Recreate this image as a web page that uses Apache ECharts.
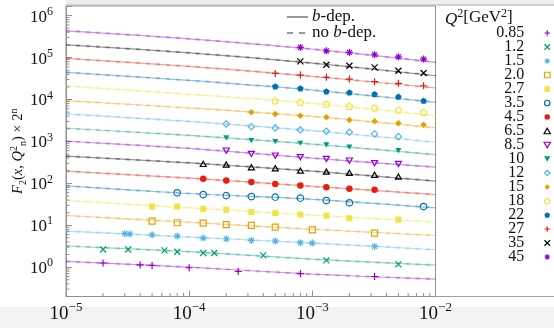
<!DOCTYPE html>
<html><head><meta charset="utf-8">
<script src="https://cdn.jsdelivr.net/npm/echarts@6/dist/echarts.min.js"></script>
<style>html,body{margin:0;padding:0;background:#fff}#c{width:554px;height:328px}</style>
</head><body><div id="c"></div>
<script>
// ---------- data ----------
const q2Labels = ['0.85','1.2','1.5','2.0','2.7','3.5','4.5','6.5','8.5','10','12','15','18','22','27','35','45'];
const xTickLabels = ['10^-5','10^-4','10^-3','10^-2'];
const yTickLabels = ['10^0','10^1','10^2','10^3','10^4','10^5','10^6'];

// x positions where the model curves were read
const lineX = [1e-5, 1e-4, 1e-3, 1e-2];
// b-dep. curves (F2 x 2^n) read at lineX; the no-b-dep. curves overlap them at this resolution
const line085 = [1.374, 1.0, 0.681, 0.518];
const line12  = [3.20, 2.34, 1.55, 1.12];
const line15  = [7.28, 5.24, 3.77, 2.61];
const line20  = [17.1, 11.8, 8.03, 5.71];
const line27  = [38.9, 26.1, 17.5, 11.9];
const line35  = [87.2, 57.2, 41.6, 26.1];
const line45  = [195, 133, 84.9, 54.1];
const line65  = [444, 308, 196, 113];
const line85  = [1011, 681, 398, 243];
const line10  = [2061, 1390, 863, 485];
const line12b = [4520, 2993, 1807, 957];
const line15b = [9360, 6280, 3940, 2095];
const line18  = [20960, 13300, 8120, 4110];
const line22  = [44400, 28500, 16800, 8570];
const line27b = [95700, 61400, 35700, 18800];
const line35b = [201800, 130000, 74000, 36900];
const line45b = [434500, 280500, 159200, 76900];

// measured points [x, F2 x 2^n]
const pts085 = [[2e-5,1.26],[4e-5,1.13],[5e-5,1.10],[1e-4,0.97],[2.5e-4,0.79],[8e-4,0.70],[3.2e-3,0.60]];
const pts12  = [[2e-5,2.65],[3.2e-5,2.65],[6.3e-5,2.51],[8e-5,2.34],[1.3e-4,2.18],[1.6e-4,2.18],[4e-4,1.91],[1.3e-3,1.45],[5e-3,1.17]];
const pts15  = [[3.0e-5,6.3],[3.3e-5,6.2],[5e-5,5.94],[8e-5,5.53],[1.3e-4,4.96],[2e-4,4.77],[3.2e-4,4.35],[5e-4,4.2],[8e-4,3.83],[1e-3,3.77],[3.2e-3,3.13]];
const pts20  = [[5e-5,12.6],[8e-5,11.5],[1.3e-4,11.3],[2e-4,10.4],[3.2e-4,9.9],[5e-4,9.06],[1e-3,7.8],[3.2e-3,6.5]];
const pts27  = [[5e-5,28],[8e-5,28],[1.3e-4,24.7],[2e-4,23.4],[3.2e-4,20.6],[5e-4,19.5],[8e-4,18.1],[1.3e-3,17.1],[2e-3,14.8],[5e-3,13.7]];
const pts35  = [[8e-5,59.4],[1.3e-4,54],[2e-4,51],[3.2e-4,48.5],[5e-4,46.9],[8e-4,44.4],[1.3e-3,38.9],[2e-3,34.4],[8e-3,28]];
const pts45  = [[1.3e-4,128],[2e-4,117],[3.2e-4,107],[5e-4,97],[8e-4,88.7],[1.3e-3,81],[2e-3,74],[3.2e-3,70]];
const pts65  = [[1.3e-4,291],[2e-4,281],[3.2e-4,243],[5e-4,230],[8e-4,202],[1.3e-3,191],[2e-3,178],[3.2e-3,159],[5e-3,145]];
const pts85  = [[2e-4,604],[3.2e-4,504],[5e-4,459],[8e-4,421],[1.3e-3,383],[2e-3,349],[3.2e-3,303],[5e-3,291]];
const pts10  = [[2e-4,1211],[3.2e-4,1045],[5e-4,989],[8e-4,905],[1.3e-3,826],[2e-3,728],[5e-3,604]];
const pts12b = [[2e-4,2612],[3.2e-4,2250],[5e-4,2094],[8e-4,1878],[1.3e-3,1749],[2e-3,1656],[3.2e-3,1510],[5e-3,1301]];
const pts15b = [[3.2e-4,4955],[5e-4,4520],[8e-4,4115],[1.3e-3,3766],[2e-3,3250],[3.2e-3,3027],[5e-3,2712],[8e-3,2512]];
const pts18  = [[5e-4,9355],[8e-4,8570],[1.3e-3,7820],[2e-3,6890],[3.2e-3,6280],[5e-3,5620],[8e-3,4955]];
const pts22  = [[5e-4,20600],[8e-4,18500],[1.3e-3,15700],[2e-3,14800],[3.2e-3,13500],[5e-3,11700],[8e-3,9360]];
const pts27b = [[5e-4,42000],[8e-4,38300],[1.3e-3,33800],[2e-3,30800],[3.2e-3,26600],[5e-3,24300],[8e-3,21300]];
const pts35b = [[8e-4,81200],[1.3e-3,67400],[2e-3,63800],[3.2e-3,58400],[5e-3,48500],[8e-3,42800]];
const pts45b = [[8e-4,175000],[1.3e-3,145000],[2e-3,133000],[3.2e-3,117000],[5e-3,104000],[8e-3,92000]];

const bLines = [line085,line12,line15,line20,line27,line35,line45,line65,line85,line10,line12b,line15b,line18,line22,line27b,line35b,line45b];
const points = [pts085,pts12,pts15,pts20,pts27,pts35,pts45,pts65,pts85,pts10,pts12b,pts15b,pts18,pts22,pts27b,pts35b,pts45b];

// ---------- styles ----------
const FONT = "'Liberation Serif','DejaVu Serif',serif";
const colors = ['#9400d3','#009e73','#56b4e9','#e69f00','#f0e442','#0072b2','#e51e10','#000000',
                '#9400d3','#009e73','#56b4e9','#e69f00','#f0e442','#0072b2','#e51e10','#000000','#9400d3'];
const PLUS = 'path://M0,5L10,5M5,0L5,10';
const CROSS = 'path://M0,0L10,10M0,10L10,0';
const STAR = 'path://M0,5L10,5M5,0L5,10M1.5,1.5L8.5,8.5M1.5,8.5L8.5,1.5';
const PENT = 'path://M5,0L9.76,3.45L7.94,9.05L2.06,9.05L0.24,3.45Z';
const SQ = 'path://M0,0L10,0L10,10L0,10Z';
const TRU = 'path://M5,0L10,8.66L0,8.66Z';
const TRD = 'path://M0,0L10,0L5,8.66Z';
const DIA = 'path://M5,0L10,5L5,10L0,5Z';
const markers = [
  {s:PLUS, z:7, f:false}, {s:CROSS, z:6, f:false}, {s:STAR, z:7, f:false},
  {s:SQ, z:6, f:false}, {s:SQ, z:6, f:true}, {s:'circle', z:6.5, f:false},
  {s:'circle', z:6.5, f:true}, {s:TRU, z:6, f:false}, {s:TRD, z:6, f:false},
  {s:TRD, z:6, f:true}, {s:DIA, z:6.5, f:false}, {s:DIA, z:6.5, f:true},
  {s:PENT, z:6.5, f:false}, {s:PENT, z:6.5, f:true}, {s:PLUS, z:7, f:false},
  {s:CROSS, z:6, f:false}, {s:STAR, z:7, f:false}
];
function markerStyle(i){
  const m = markers[i], c = colors[i];
  return m.f ? {color:c, borderWidth:0, opacity:1} : {color:'rgba(0,0,0,0)', borderColor:c, borderWidth:1.2, opacity:1};
}

function fmtPow(v){
  const l = Math.log10(v), e = Math.round(l);
  if (Math.abs(l - e) > 1e-6) return '';
  const lab = '10^' + e;
  if (xTickLabels.indexOf(lab) < 0 && yTickLabels.indexOf(lab) < 0) return '';
  return '{b|10}{s|' + (e < 0 ? '\u2212' + (-e) : e) + '}';
}
const richX = {
  b:{fontFamily:FONT, fontSize:19, lineHeight:22, color:'#111', verticalAlign:'bottom'},
  s:{fontFamily:FONT, fontSize:13, lineHeight:13, color:'#111', verticalAlign:'top'}
};
const richY = {
  b:{fontFamily:FONT, fontSize:17, lineHeight:20, color:'#111', verticalAlign:'bottom'},
  s:{fontFamily:FONT, fontSize:12, lineHeight:12, color:'#111', verticalAlign:'top'}
};

// minor ticks of the log axes (2..9 per decade)
const xMinor = [];
for (let e = -5; e < -2; e++) for (let k = 2; k <= 9; k++) xMinor.push([k * Math.pow(10, e), 1]);
const yMinor = [];
for (let e = -1; e <= 6; e++) for (let k = 2; k <= 9; k++) { const v = k * Math.pow(10, e); if (v >= 0.2 && v <= 1.7e6) yMinor.push([1e-4, v]); }

const series = [];
q2Labels.forEach((name, i) => {
  const c = colors[i];
  const ld = lineX.map((x, k) => [x, bLines[i][k]]);
  series.push({type:'line', name:'b-dep. ' + name, data:ld, symbol:'none', smooth:0.3, color:c, silent:true, z:2,
    lineStyle:{color:c, width:1.2, opacity:0.42}});
  series.push({type:'line', name:'no b-dep. ' + name, data:ld, symbol:'none', smooth:0.3, color:c, silent:true, z:2,
    lineStyle:{color:c, width:2.2, opacity:0.28, type:[4,6]}});
  const m = markers[i];
  series.push({type:'scatter', name:name, data:points[i], symbol:m.s, symbolSize:m.z,
    symbolKeepAspect:true, color:c, itemStyle:markerStyle(i), z:5});
});
series.push({type:'custom', silent:true, z:6, data:xMinor, clip:false,
  renderItem:(params, api) => {
    const cs = params.coordSys, p = api.coord([api.value(0), api.value(1)]), yb = cs.y + cs.height;
    return {type:'line', shape:{x1:p[0], y1:yb, x2:p[0], y2:yb-3.5}, style:{stroke:'#909090', lineWidth:1}};
  }});
series.push({type:'custom', silent:true, z:6, data:yMinor, clip:false,
  renderItem:(params, api) => {
    const cs = params.coordSys, p = api.coord([api.value(0), api.value(1)]);
    return {type:'line', shape:{x1:cs.x, y1:p[1], x2:cs.x+3.5, y2:p[1]}, style:{stroke:'#909090', lineWidth:1}};
  }});

const keyRich = {i:{fontFamily:FONT, fontSize:17, fontStyle:'italic', fill:'#111'}};

const chart = echarts.init(document.getElementById('c'), null, {renderer:'canvas'});
chart.setOption({
  animation:false,
  backgroundColor:'#ffffff',
  title:{text:'{i|Q}{s|2}[GeV{s|2}]', left:445, top:8, padding:0,
    textStyle:{fontFamily:FONT, fontSize:17, fontWeight:'normal', color:'#111',
      rich:{i:{fontFamily:FONT, fontSize:17, fontStyle:'italic', color:'#111', lineHeight:20, verticalAlign:'bottom'},
            s:{fontFamily:FONT, fontSize:12, color:'#111', lineHeight:12, verticalAlign:'top'}}}},
  grid:{left:66, right:118.5, top:6, bottom:31.5, show:true, borderColor:'#909090', borderWidth:1,
        outerBoundsMode:'none', containLabel:false},
  legend:[
    {data:q2Labels.map((n, i) => ({name:n, icon:markers[i].s, itemStyle:markerStyle(i)})),
     orient:'vertical', right:3, top:25, padding:0, align:'right', itemWidth:36, itemHeight:5.5, itemGap:-2,
     selectedMode:false, textStyle:{fontFamily:FONT, fontSize:16, lineHeight:14, color:'#111'}}
  ],
  xAxis:{type:'log', logBase:10, min:1e-5, max:1e-2,
    axisLine:{show:true, lineStyle:{color:'#909090'}},
    axisTick:{show:true, inside:true, length:6, lineStyle:{color:'#909090'}},
    axisLabel:{margin:5, formatter:fmtPow, rich:richX, showMinLabel:true, showMaxLabel:true},
    splitLine:{show:false},
    name:'x', nameLocation:'middle', nameGap:12,
    nameTextStyle:{fontFamily:FONT, fontStyle:'italic', fontSize:20, color:'#111'}},
  yAxis:{type:'log', logBase:10, min:0.2, max:1.7e6,
    axisLine:{show:true, lineStyle:{color:'#909090'}},
    axisTick:{show:true, inside:true, length:6, lineStyle:{color:'#909090'}},
    axisLabel:{margin:13, formatter:fmtPow, rich:richY},
    splitLine:{show:false},
    name:'{i|F}{sub|2}({i|x}, {i|Q}{sup|2}{sub|n}) \u00d7 2{sup|n}', nameLocation:'middle', nameGap:38, nameRotate:90,
    nameMoveOverlap:false,
    nameTextStyle:{fontFamily:FONT, fontSize:14.5, color:'#111', lineHeight:19,
      rich:{i:{fontFamily:FONT, fontSize:14.5, fontStyle:'italic', color:'#111', lineHeight:19},
            sub:{fontFamily:FONT, fontSize:10, color:'#111', lineHeight:10, verticalAlign:'bottom'},
            sup:{fontFamily:FONT, fontSize:10, color:'#111', lineHeight:10, verticalAlign:'top'}}}},
  graphic:[
    {type:'rect', z:-10, silent:true, shape:{x:0, y:307, width:554, height:21}, style:{fill:'#f3f3f3'}},
    {type:'rect', z:-10, silent:true, shape:{x:66, y:0, width:488, height:4}, style:{fill:'#eeeeee'}},
    {type:'line', z:1, silent:true, shape:{x1:66, y1:5, x2:554, y2:5}, style:{stroke:'#c0c0c0', lineWidth:1.5}},
    {type:'line', z:1, silent:true, shape:{x1:435.5, y1:296.5, x2:554, y2:296.5}, style:{stroke:'#a0a0a0', lineWidth:1}},
    {type:'line', z:10, silent:true, shape:{x1:287, y1:17, x2:308, y2:17}, style:{stroke:'#333', lineWidth:1}},
    {type:'line', z:10, silent:true, shape:{x1:287, y1:33, x2:305, y2:33}, style:{stroke:'#333', lineWidth:1, lineDash:[6,6]}},
    {type:'text', z:10, silent:true, style:{x:312, y:17, text:'{i|b}-dep.', fontFamily:FONT, fontSize:17, fill:'#111',
      verticalAlign:'middle', rich:keyRich}},
    {type:'text', z:10, silent:true, style:{x:312, y:33, text:'no {i|b}-dep.', fontFamily:FONT, fontSize:17, fill:'#111',
      verticalAlign:'middle', rich:keyRich}}
  ],
  series:series
});
</script></body></html>
